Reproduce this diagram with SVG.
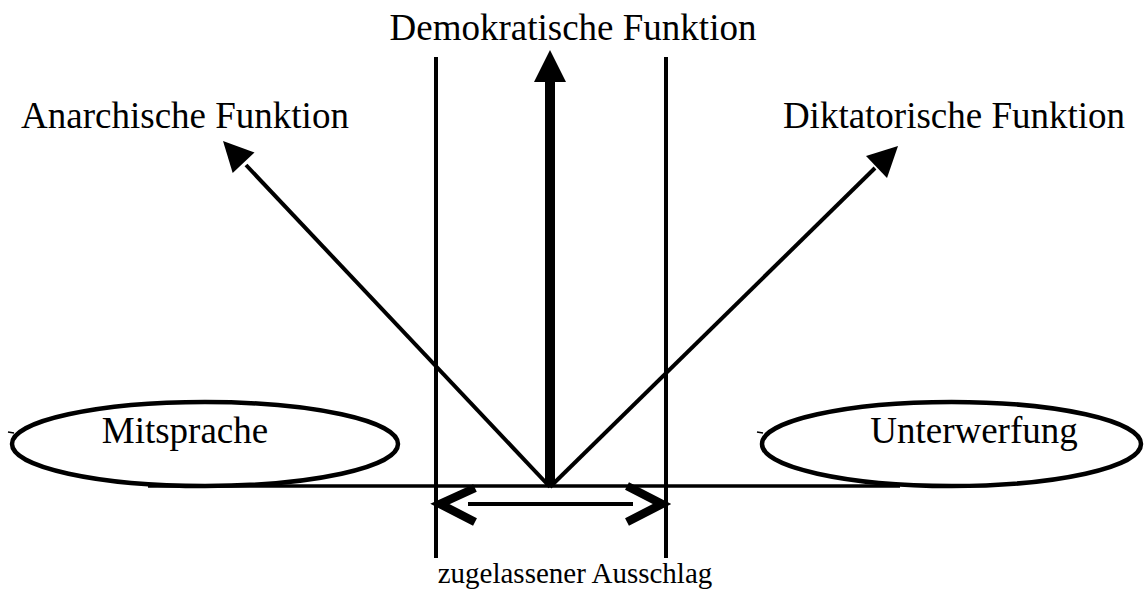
<svg xmlns="http://www.w3.org/2000/svg" width="1144" height="592" viewBox="0 0 1144 592">
<style>
  .t { font-family: "Liberation Serif", "Times New Roman", serif; fill: #000; }
  .big { font-size: 37px; }
  .small { font-size: 29px; }
  .ln { stroke: #000; fill: none; }
  .ell { stroke: #000; stroke-width: 4.5; fill: #fff; }
</style>
<rect width="1144" height="592" fill="#fff"/>
<g id="connectors">
  <line class="ln" x1="148" y1="486" x2="900" y2="486" stroke-width="3.5"/>
  <line class="ln" x1="436" y1="57" x2="436" y2="558" stroke-width="4"/>
  <line class="ln" x1="666" y1="57" x2="666" y2="558" stroke-width="4"/>
  <line class="ln" x1="550" y1="487" x2="550" y2="80" stroke-width="10"/>
  <polygon points="550,50 534,82 566,82" fill="#000"/>
  <line class="ln" x1="550" y1="487" x2="246" y2="165" stroke-width="4"/>
  <polygon points="223,141 254.5,152.5 232.7,173.1" fill="#000"/>
  <line class="ln" x1="550" y1="487" x2="875" y2="168" stroke-width="4"/>
  <polygon points="898,146 887,178 866,156" fill="#000"/>
  <line class="ln" x1="468" y1="504" x2="633" y2="504" stroke-width="4"/>
  <polyline class="ln" points="475,488 440,504 475,522" stroke-width="8.5"/>
  <polyline class="ln" points="627,486 662,504 627,522" stroke-width="8.5"/>
</g>
<g id="mitsprache">
  <ellipse class="ell" cx="205" cy="444" rx="193" ry="42"/>
  <line class="ln" x1="8" y1="432" x2="14" y2="433" stroke-width="1.5"/>
  <text class="t big" x="185" y="443" text-anchor="middle">Mitsprache</text>
</g>
<g id="unterwerfung">
  <ellipse class="ell" cx="951.5" cy="444" rx="189.5" ry="42"/>
  <line class="ln" x1="757" y1="432" x2="763" y2="433" stroke-width="1.5"/>
  <text class="t big" x="974" y="443" text-anchor="middle">Unterwerfung</text>
</g>
<g id="demokratische">
  <text class="t big" x="573" y="40" text-anchor="middle">Demokratische Funktion</text>
</g>
<g id="anarchische">
  <text class="t big" x="185" y="128" text-anchor="middle">Anarchische Funktion</text>
</g>
<g id="diktatorische">
  <text class="t big" x="954" y="128" text-anchor="middle">Diktatorische Funktion</text>
</g>
<g id="ausschlag">
  <text class="t small" x="575" y="583" text-anchor="middle">zugelassener Ausschlag</text>
</g>
</svg>
